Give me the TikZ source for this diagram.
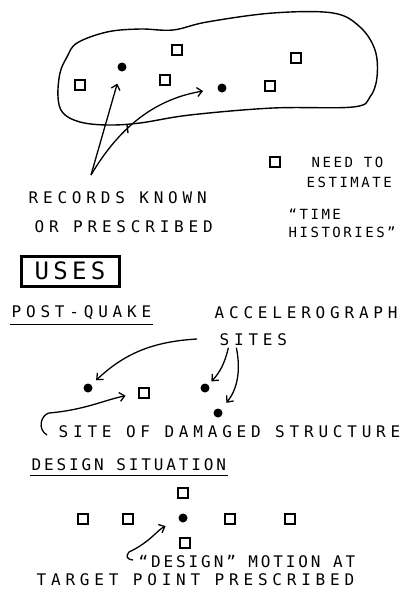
\documentclass[tikz,border=0pt]{standalone}
\usepackage{fontspec}
\usepackage{tikz}
\usetikzlibrary{calc,positioning,arrows.meta}
\newfontfamily\handfont[LetterSpace=30]{DejaVu Sans Mono}
\newfontfamily\handfontn[LetterSpace=18]{DejaVu Sans Mono}
\newcommand{\hw}{\handfont\fontsize{16}{19}\selectfont}
\newcommand{\hwmid}{\handfontn\fontsize{16}{19}\selectfont}
\newcommand{\hwleg}{\handfontn\fontsize{14}{17}\selectfont}
\tikzset{
>={Straight Barb[length=5pt,width=9pt]},
  sitebox/.style={
    draw, 
    line width=1.5pt,
    minimum size=10pt, 
    inner sep=0pt},
  recdot/.style={
    circle, 
    fill,
    minimum size=9pt, 
    inner sep=0pt},
  handtext/.style={
    font=\hw,
    inner sep=1pt, 
    anchor=west},
  legtext/.style={handtext, font=\hwleg},
  link/.style={draw, line width=1.3pt, ->},
  underl/.style={draw, line width=1.4pt},
}

\begin{document}
\begin{tikzpicture}[x=1pt,y=1pt,line width=1.4pt]
  \useasboundingbox (0,0) rectangle (417,-590);

% recorded region
  \draw plot[smooth cycle, tension=0.6] coordinates {
    (67,-57) (77,-43) (107,-32) (140,-29) (173,-30) (207,-22) (273,-13)
    (333,-13) (360,-27) (375,-50) (377,-77) (370,-97) (353,-107)
    (273,-108) (190,-115) (140,-123) (107,-125) (80,-122) (63,-113)
    (58,-97) (60,-73)};

     \node[sitebox] (b1) at (80,-85) {};
     \node[sitebox] (b2) at (177,-50) {};
     \node[sitebox] (b3) at (165,-80) {};
     \node[sitebox] (b4) at (296,-58) {};
     \node[sitebox] (b5) at (270,-86) {};
     \node[recdot] (r1) at (122,-67) {};
     \node[recdot] (r2) at (222,-88) {};

     \node[handtext] (recA) at (27,-198) {RECORDS KNOWN};
     \node[handtext] (recB) at (33,-227) {OR PRESCRIBED};
     \coordinate (recft) at (91,-175);
\draw[link, shorten >=12pt] (recft) -- (r1);
\draw[link, shorten >=14pt] (recft) to[bend left=25] (r2);
\draw (127,-125) -- ++(1,-8);

% legend
     \node[sitebox] (lgd) at (275,-162) {};
     \node[legtext] (needA) at (310,-162) {NEED TO};
     \node[legtext] (needB) at (305,-182) {ESTIMATE};
     \node[legtext] (needC) at (287,-214) {“TIME};
     \node[legtext] (needD) at (287,-232) {HISTORIES”};

     \node[draw, line width=3pt, minimum width=98pt, minimum height=30pt,
       font=\handfontn\fontsize{24}{27}\selectfont] (uses) at (70,-271) {USES};

% post-quake
     \node[handtext] (postq) at (10,-313) {POST-QUAKE};
\draw[underl] ([yshift=-3pt]postq.south west) -- ([yshift=-3pt]postq.south east);
     \node[handtext] (accel) at (213,-313) {ACCELEROGRAPH};
     \node[handtext] (sites) at (218,-340) {SITES};

     \node[recdot] (p1) at (88,-388) {};
     \node[recdot] (p2) at (205,-388) {};
     \node[recdot] (p3) at (218,-413) {};
     \node[sitebox] (sqd) at (144,-393) {};

     \coordinate (sA) at ([xshift=-21pt,yshift=1pt]sites.west);
     \coordinate (sB) at ([xshift=-25pt]sites.south);
     \coordinate (sC) at ([xshift=-17pt]sites.south);
\draw[link, shorten >=6pt] (sA) to[bend right=20] (p1);
\draw[link, shorten >=4pt] (sB) to[bend left=15] (p2);
\draw[link, shorten >=8pt] (sC) to[bend left=25] (p3);

     \node[handtext] (dmg) at (57,-432) {SITE OF DAMAGED STRUCTURE};
     \coordinate (hkA) at ([xshift=-10pt,yshift=-3pt]dmg.west);
\draw[link, shorten >=13pt] (hkA) .. controls +(-10,6) and +(-8,-2) .. ++(2,22)
   to[out=5,in=192] (sqd.west);

% design situation
     \node[handtext, font=\hwmid] (dsgn) at (30,-465) {DESIGN SITUATION};
\draw[underl] ([yshift=-3pt]dsgn.south west) -- ([yshift=-3pt]dsgn.south east);

     \node[sitebox] (dq1) at (183,-493) {};
     \node[sitebox] (dq2) at (83,-519) {};
     \node[sitebox] (dq3) at (128,-519) {};
     \node[sitebox] (dq4) at (230,-519) {};
     \node[sitebox] (dq5) at (290,-519) {};
     \node[sitebox] (dq6) at (185,-543) {};
     \node[recdot] (ddot) at (183,-518) {};

     \node[handtext, font=\hwmid] (motion) at (137,-562) {“DESIGN” MOTION AT};
     \node[handtext] (target) at (35,-580) {TARGET POINT PRESCRIBED};
     \coordinate (hkB) at ([xshift=-4pt,yshift=2pt]motion.west);
\draw[link, shorten >=14pt] (hkB) .. controls +(-7,1) and +(-3,-4) .. ++(-4,8)
   to[out=25,in=205] (ddot);
  \end{tikzpicture}
\end{document}
